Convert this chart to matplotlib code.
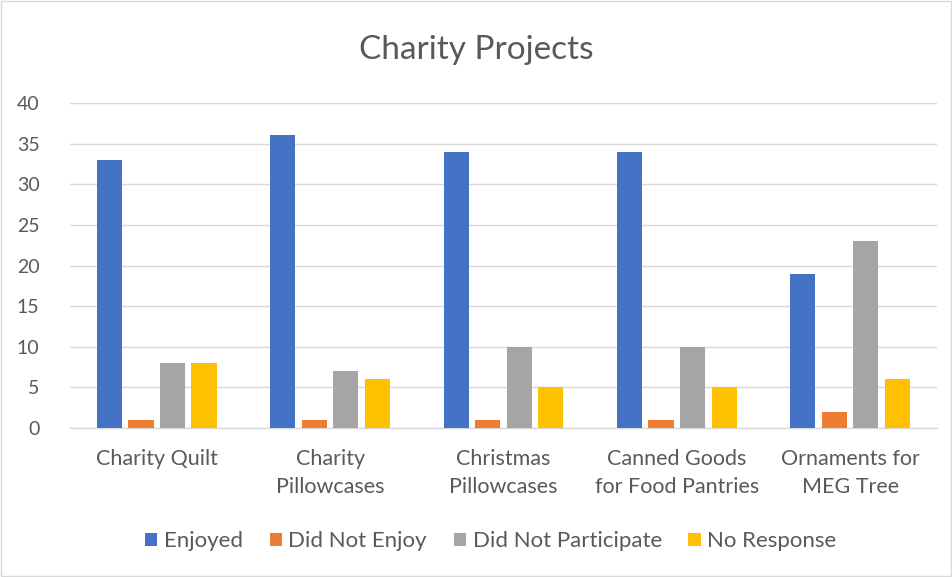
import matplotlib
matplotlib.use("Agg")
import matplotlib.pyplot as plt
import numpy as np
from matplotlib.patches import Rectangle

categories = ["Charity Quilt", "Charity\nPillowcases", "Christmas\nPillowcases",
              "Canned Goods\nfor Food Pantries", "Ornaments for\nMEG Tree"]
series_names = ["Enjoyed", "Did Not Enjoy", "Did Not Participate", "No Response"]
enjoyed = [33, 36, 34, 34, 19]
did_not_enjoy = [1, 1, 1, 1, 2]
did_not_participate = [8, 7, 10, 10, 23]
no_response = [8, 6, 5, 5, 6]
y_ticks = [0, 5, 10, 15, 20, 25, 30, 35, 40]

colors = ["#4472C4", "#ED7D31", "#A5A5A5", "#FFC000"]
text_color = "#595959"

plt.rcParams['font.family'] = ['Lato', 'DejaVu Sans']

fig = plt.figure(figsize=(9.53, 5.77), dpi=100)
fig.patches.append(Rectangle((0.001, 0.001), 0.997, 0.997, transform=fig.transFigure,
                             fill=False, edgecolor="#D9D9D9", linewidth=1))
ax = fig.add_axes([0.0735, 0.2582, 0.9095, 0.5633])

x = np.arange(len(categories))
data = [enjoyed, did_not_enjoy, did_not_participate, no_response]
width = 0.145
step = 0.182
offsets = [-1.5 * step, -0.5 * step, 0.5 * step, 1.5 * step]
for vals, off, c, name in zip(data, offsets, colors, series_names):
    ax.bar(x + off, vals, width=width, color=c, label=name, zorder=3)

ax.set_xlim(-0.5, len(categories) - 0.5)
ax.set_ylim(0, 40)
ax.set_yticks(y_ticks)
ax.set_yticklabels([str(t) for t in y_ticks], fontsize=14, color=text_color)
ax.set_xticks(x)
ax.set_xticklabels(categories, fontsize=15.5, color=text_color, linespacing=1.5)
ax.tick_params(axis='both', length=0)
ax.tick_params(axis='y', pad=22)
ax.tick_params(axis='x', pad=15)
ax.grid(axis='y', color="#D9D9D9", linewidth=1, zorder=0)
for s in ["left", "right", "top"]:
    ax.spines[s].set_visible(False)
ax.spines["bottom"].set_color("#D9D9D9")
ax.spines["bottom"].set_linewidth(1)

fig.text(0.5, 0.914, "Charity Projects", ha='center', va='center', fontsize=24, color=text_color)

leg = fig.legend(loc='center', bbox_to_anchor=(0.515, 0.062), ncol=4, frameon=False,
                 fontsize=16, handlelength=0.55, handleheight=0.55, columnspacing=1.2,
                 handletextpad=0.3)
for t in leg.get_texts():
    t.set_color(text_color)

fig.savefig("out.png", dpi=100)
